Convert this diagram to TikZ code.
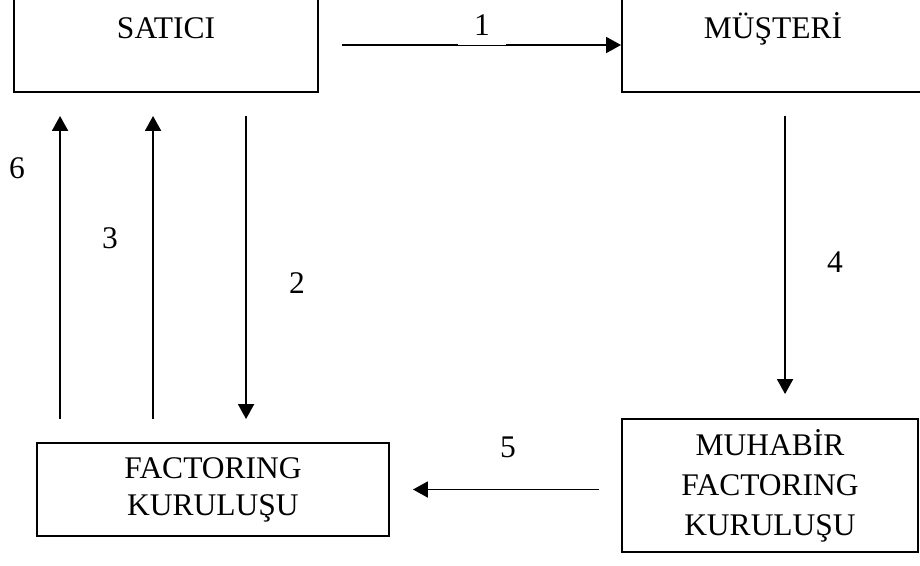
\documentclass[tikz,border=0pt]{standalone}
\usepackage{fontspec}
\setmainfont{Liberation Serif}
\usetikzlibrary{arrows.meta, positioning}

\begin{document}
\begin{tikzpicture}[x=1pt, y=-1pt, align=center, font=\fontsize{31.5}{37}\selectfont,
    every node/.style={inner sep=0pt},
    box/.style={draw, line width=1.9pt},
    onebox/.style={box, minimum height=128pt, text height=21pt, text depth=0pt},
    flow/.style={-{Triangle[length=15pt,width=16pt]}, line width=1.9pt}]
  \useasboundingbox (0,0) rectangle (920,565);

  \node (satici) [onebox, minimum width=304pt] at (166,28) {SATICI};
  \node (musteri) [onebox, minimum width=302pt] at (773,28) {MÜŞTERİ};
  \node (fact) [box, minimum width=352pt, minimum height=93pt] at (213,489.5) {FACTORING\\KURULUŞU};
  \node (muhabir) [box, minimum width=296pt, minimum height=133pt, font=\fontsize{31.5}{40}\selectfont] at (770,485.5) {MUHABİR\\FACTORING\\KURULUŞU};

  \draw[flow, shorten <=23pt] ([yshift=-17pt]satici.east) -- ([yshift=-17pt]musteri.west);
  \node (n1) [fill=white, inner xsep=16pt, inner ysep=9pt, anchor=south] at (482,44.8) {1};

  \draw[flow, shorten <=23pt, shorten >=23pt] ([xshift=24pt]fact.north west) -- ([xshift=47pt]satici.south west);
  \draw[flow, shorten <=23pt, shorten >=23pt] ([xshift=117pt]fact.north west) -- ([xshift=140pt]satici.south west);
  \draw[flow, shorten <=23pt, shorten >=23pt] ([xshift=233pt]satici.south west) -- ([xshift=210pt]fact.north west);
  \draw[flow, shorten <=23pt, shorten >=24pt] ([xshift=164pt]musteri.south west) -- ([xshift=164pt]muhabir.north west);
  \draw[flow, shorten <=22pt, shorten >=23pt] (muhabir.west |- fact.east) -- (fact.east);

  \node (n6) at (17,168) {6};
  \node (n3) at (110,238) {3};
  \node (n2) at (297,283) {2};
  \node (n4) at (835,262) {4};
  \node (n5) at (508,447) {5};
\end{tikzpicture}
\end{document}
